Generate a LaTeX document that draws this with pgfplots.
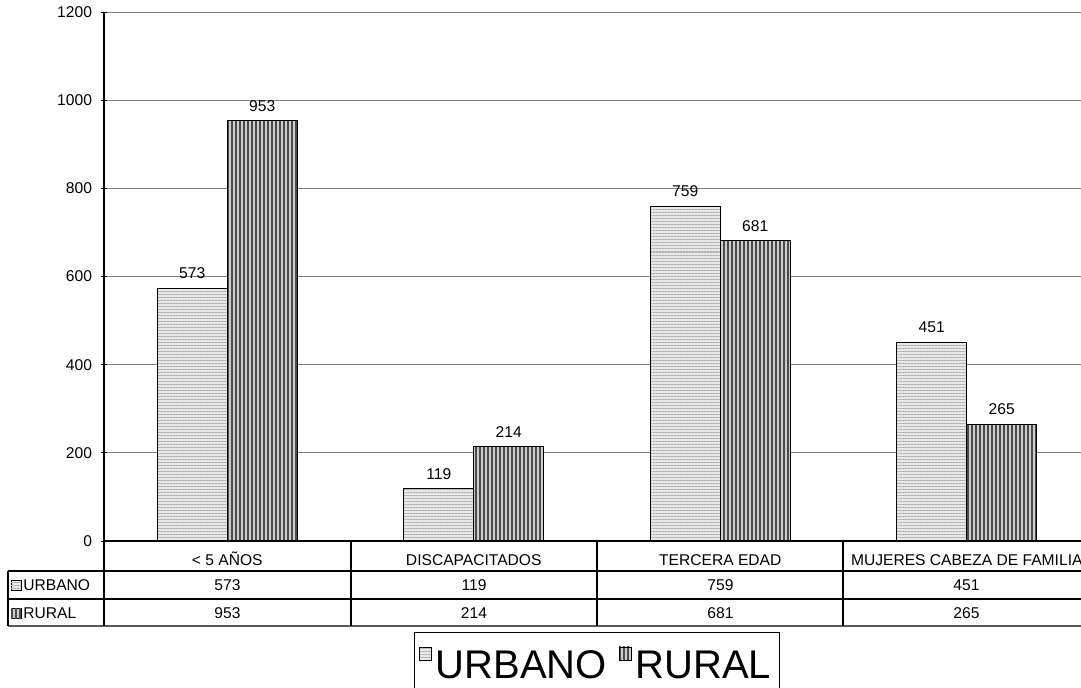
\documentclass[border=0pt]{standalone}
\usepackage{fontspec}
\setmainfont{Liberation Sans}
\usepackage{pgfplots}
\pgfplotsset{compat=1.18}
\usetikzlibrary{patterns.meta}

% series styles (fill + hatch)
\tikzset{
  urbano/.style={fill=gray!18, draw=black, line width=0.6pt,
    postaction={pattern={Lines[angle=0,distance=1.5pt,line width=0.5pt]}, pattern color=gray!60}},
  rural/.style={fill=gray!40, draw=black, line width=0.6pt,
    postaction={pattern={Lines[angle=90,distance=2pt,line width=0.8pt]}, pattern color=black!70}},
}

\begin{document}
\begin{tikzpicture}[x=0.5pt, y=0.5pt, font=\fontsize{7.8}{9}\selectfont]
\path[use as bounding box] (0,0) rectangle (1081,687);

\begin{axis}[
  at={(52pt,73pt)}, anchor=south west,
  scale only axis, width=493pt, height=264.5pt,
  ybar=0pt, bar width=35pt,
  xmin=-0.5, xmax=3.5, ymin=0, ymax=1200,
  ytick={0,200,...,1200},
  xtick=data,
  xticklabels={< 5 AÑOS, DISCAPACITADOS, TERCERA EDAD, MUJERES CABEZA DE FAMILIA},
  x tick style={draw=none},
  y tick style={black, line width=0.5pt},
  major tick length=3pt, tick align=outside,
  axis lines=left, axis line style={-, black, line width=0.6pt},
  ymajorgrids, major grid style={gray, line width=0.5pt},
  clip=false,
  /pgf/number format/assume math mode=true,
  /pgf/number format/1000 sep={},
  tick label style={font=\fontsize{7.8}{9}\selectfont},
  xticklabel style={yshift=-1pt, text height=6pt, text depth=1.5pt},
  yticklabel style={xshift=-1pt},
  nodes near coords,
  every node near coord/.append style={font=\fontsize{7.8}{9}\selectfont, black, yshift=1pt},
  legend columns=2,
  legend style={at={(0.5,-0.172)}, anchor=north, draw=black, line width=0.5pt,
    font=\fontsize{20}{22}\selectfont, inner xsep=2pt, inner ysep=7pt,
    /tikz/every even column/.append style={column sep=4pt}},
  legend image code/.code={\draw[#1, line width=0.4pt] (0pt,3pt) rectangle (6pt,9.5pt);},
]
\addplot[urbano] coordinates {(0,573) (1,119) (2,759) (3,451)};
\addplot[rural] coordinates {(0,953) (1,214) (2,681) (3,265)};
\legend{URBANO, RURAL}
\end{axis}

% data table below the axis
\begin{scope}[line width=0.6pt]
  \draw (8,116) -- (1090,116);
  \draw (8,88) -- (1090,88);
  \draw[gray!70!black, line width=0.9pt] (8,61) -- (1090,61);
  \draw (8,116) -- (8,61);
  \foreach \x in {104,351,597,843} \draw (\x,146) -- (\x,61);
\end{scope}
\draw[urbano, line width=0.4pt] (11,97) rectangle (21,107);
\draw[rural, line width=0.4pt] (11,69) rectangle (21,79);
\node[anchor=west, inner sep=0] at (23,102) {URBANO};
\node[anchor=west, inner sep=0] at (23,74) {RURAL};
\foreach \x/\u/\r in {227.5/573/953, 474/119/214, 720.5/759/681, 966.5/451/265} {
  \node at (\x,102) {\u};
  \node at (\x,74) {\r};
}
\end{tikzpicture}
\end{document}
